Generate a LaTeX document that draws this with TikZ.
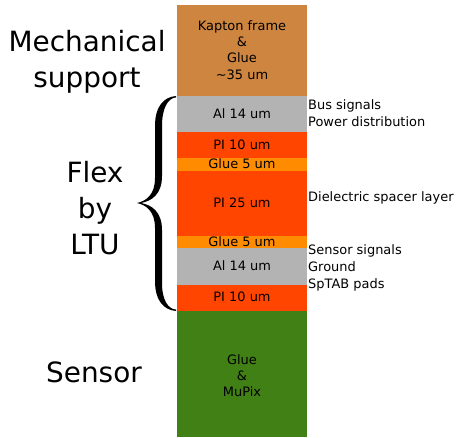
\documentclass[tikz,border=0pt]{standalone}
\usepackage{fontspec}
\setmainfont{DejaVu Sans}
\definecolor{kapton}{RGB}{205,133,63}
\definecolor{alu}{RGB}{179,179,179}
\definecolor{polyimide}{RGB}{255,69,0}
\definecolor{gluecol}{RGB}{255,140,0}
\definecolor{sensorcol}{RGB}{64,128,21}
\begin{document}
\begin{tikzpicture}[x=1bp,y=-1bp,
  layertext/.style={inner sep=0pt,anchor=base,align=center,font=\fontsize{13}{16.4}\selectfont},
  sidetext/.style={inner sep=0pt,anchor=base west,align=left,font=\fontsize{13}{17}\selectfont},
  bigtext/.style={inner sep=0pt,align=center,font=\fontsize{28}{36}\selectfont}]
\useasboundingbox (0,0) rectangle (458,438);
% layers
\fill[kapton]    (177,5)   rectangle (307,96);
\fill[alu]       (177,96)  rectangle (307,132);
\fill[polyimide] (177,132) rectangle (307,158);
\fill[gluecol]   (177,158) rectangle (307,171);
\fill[polyimide] (177,171) rectangle (307,236);
\fill[gluecol]   (177,236) rectangle (307,248);
\fill[alu]       (177,248) rectangle (307,285);
\fill[polyimide] (177,285) rectangle (307,311);
\fill[sensorcol] (177,311) rectangle (307,437);
% layer labels (base = baseline of last line)
\node[layertext] (kap) at (242,79.3) {Kapton frame\\\&\\Glue\\\textasciitilde35 um};
\node[layertext] (al1) at (242,119) {Al 14 um};
\node[layertext] (pi1) at (242,150) {PI 10 um};
\node[layertext] (gl1) at (242,168.3) {Glue 5 um};
\node[layertext] (pi2) at (242,207.3) {PI 25 um};
\node[layertext] (gl2) at (242,246.7) {Glue 5 um};
\node[layertext] (al2) at (242,270.7) {Al 14 um};
\node[layertext] (pi3) at (242,301.7) {PI 10 um};
\node[layertext] (sen) at (242,396.7) {Glue\\\&\\MuPix};
% side labels
\node[sidetext] (bus) at (308,126.7) {Bus signals\\Power distribution};
\node[sidetext] (die) at (308,201.7) {Dielectric spacer layer};
\node[sidetext] (sig) at (308,288.5) {Sensor signals\\Ground\\SpTAB pads};
% left labels
\node[bigtext] (mech) at (87,62) {Mechanical\\support};
\node[bigtext] (flex) at (95,208) {Flex\\by\\LTU};
\node[bigtext,anchor=base] (sensor) at (94,382) {Sensor};
% brace
\fill (176,96) .. controls (164,97) and (155,106) .. (155,126)
  -- (155,178) .. controls (155,195) and (146,201) .. (137,203)
  .. controls (146,205) and (155,211) .. (155,228)
  -- (155,281) .. controls (155,301) and (164,310) .. (176,311)
  -- (176,309.6) .. controls (168,309) and (162,300) .. (162,283)
  -- (162,230) .. controls (162,212) and (152,205) .. (141,203)
  .. controls (152,201) and (162,194) .. (162,176)
  -- (162,126) .. controls (162,108) and (168,98) .. (176,97.4) -- cycle;
\end{tikzpicture}
\end{document}
